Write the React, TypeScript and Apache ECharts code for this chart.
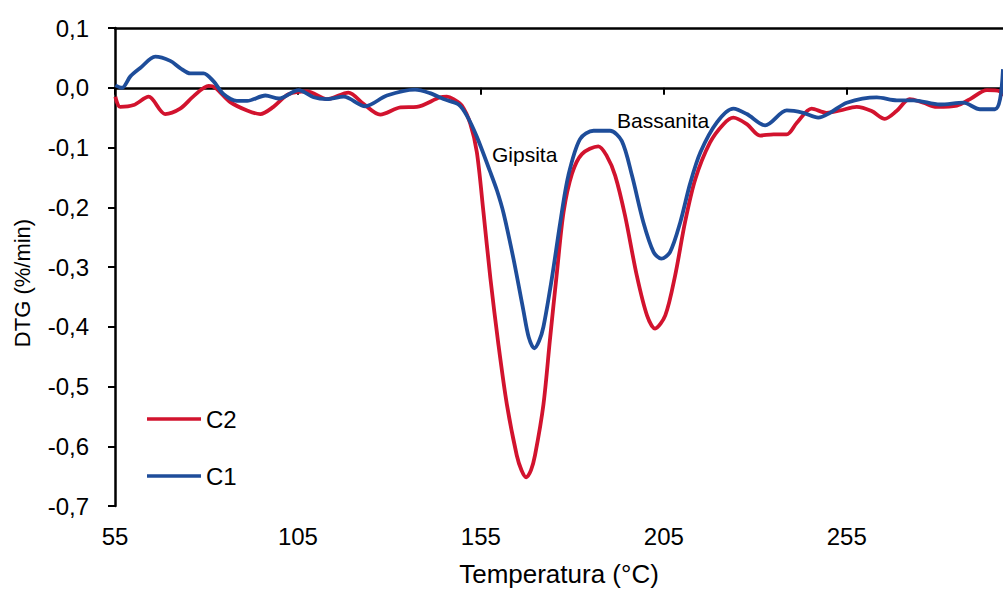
import React, { useEffect, useRef } from "react";
import * as echarts from "echarts";

// Temperature (°C) and DTG (%/min)
const c1Temp = [55.1, 56.9, 59.2, 61.9, 66.0, 70.1, 72.8, 75.6, 79.2, 81.9, 84.7, 88.3, 91.1, 96.1, 99.7, 105.2, 109.3, 112.9, 117.5, 123.4, 129.3, 137.0, 141.1, 144.8, 148.9, 151.2, 153.9, 157.5, 159.4, 161.2, 163.9, 166.6, 168.1, 169.6, 170.9, 172.1, 174.4, 176.7, 178.9, 182.1, 185.8, 190.3, 193.5, 196.3, 199.4, 202.2, 204.3, 206.7, 209.5, 212.2, 215.0, 219.5, 224.0, 227.7, 232.7, 238.6, 243.1, 247.2, 250.4, 255.0, 263.2, 268.7, 273.2, 280.5, 286.9, 291.4, 295.5, 296.9, 297.7];
const c1Dtg = [0.004, 0.0, 0.019, 0.033, 0.052, 0.045, 0.033, 0.024, 0.024, 0.011, -0.011, -0.022, -0.022, -0.013, -0.018, -0.004, -0.016, -0.019, -0.015, -0.031, -0.013, -0.003, -0.009, -0.019, -0.028, -0.047, -0.082, -0.140, -0.172, -0.210, -0.286, -0.372, -0.418, -0.436, -0.424, -0.400, -0.319, -0.225, -0.147, -0.086, -0.072, -0.072, -0.089, -0.147, -0.225, -0.275, -0.286, -0.275, -0.225, -0.160, -0.108, -0.058, -0.035, -0.044, -0.063, -0.038, -0.042, -0.050, -0.042, -0.025, -0.016, -0.021, -0.021, -0.028, -0.025, -0.036, -0.036, -0.019, 0.031];

const c2Temp = [55.1, 56.4, 60.1, 64.2, 68.7, 72.8, 76.5, 80.6, 82.4, 86.5, 91.1, 94.7, 98.3, 102.4, 107.5, 112.9, 118.8, 122.9, 127.5, 133.0, 137.5, 143.9, 145.7, 147.5, 149.8, 152.1, 153.9, 155.7, 157.6, 159.8, 162.1, 164.8, 166.1, 167.4, 168.7, 169.8, 172.1, 173.9, 175.8, 177.6, 179.9, 182.6, 187.1, 189.4, 191.7, 194.4, 197.6, 200.4, 202.6, 205.4, 208.1, 210.8, 213.6, 217.6, 221.3, 224.0, 227.7, 231.3, 235.0, 238.6, 241.3, 245.4, 249.5, 253.2, 257.7, 261.8, 265.4, 268.6, 272.2, 275.9, 279.6, 285.1, 288.7, 293.3, 296.9, 297.7];
const c2Dtg = [-0.015, -0.032, -0.029, -0.015, -0.044, -0.035, -0.014, 0.003, 0.0, -0.024, -0.038, -0.044, -0.032, -0.011, -0.006, -0.019, -0.008, -0.027, -0.045, -0.033, -0.032, -0.016, -0.015, -0.019, -0.03, -0.06, -0.108, -0.208, -0.319, -0.43, -0.53, -0.615, -0.640, -0.652, -0.640, -0.615, -0.53, -0.42, -0.308, -0.208, -0.144, -0.111, -0.098, -0.114, -0.147, -0.214, -0.314, -0.381, -0.403, -0.381, -0.314, -0.225, -0.153, -0.092, -0.061, -0.050, -0.061, -0.080, -0.078, -0.078, -0.059, -0.035, -0.042, -0.038, -0.032, -0.039, -0.052, -0.039, -0.019, -0.025, -0.032, -0.030, -0.019, -0.004, -0.006, -0.014];

const xTicks = [55, 105, 155, 205, 255];
const seriesNames = ["C2", "C1"];
const annotations = ["Gipsita", "Bassanita"];
const yTitle = "DTG (%/min)";
const xTitle = "Temperatura (°C)";

const RED = "#D2132E";
const BLUE = "#1E4D9A";
const FONT = "'Liberation Sans', Arial, sans-serif";

export default function App() {
  const ref = useRef<HTMLDivElement>(null);
  useEffect(() => {
    if (!ref.current) return;
    const chart = echarts.init(ref.current, undefined, { renderer: "svg" });
    const fmtY = (v: number) => (Math.abs(v) < 1e-9 ? "0,0" : v.toFixed(1).replace(".", ","));
    chart.setOption({
      animation: false,
      backgroundColor: "#fff",
      textStyle: { fontFamily: FONT },
      grid: { left: 115, right: 0, top: 28, bottom: 83 },
      legend: {
        data: seriesNames,
        orient: "vertical",
        left: 147,
        top: 407,
        padding: 0,
        icon: "rect",
        itemWidth: 54,
        itemHeight: 3.5,
        itemGap: 33,
        textStyle: { fontSize: 24, color: "#000", fontFamily: FONT },
      },
      xAxis: [
        {
          type: "value",
          min: 55,
          max: 297.7,
          name: xTitle,
          nameLocation: "middle",
          nameGap: 55,
          nameTextStyle: { fontSize: 26, color: "#000", fontFamily: FONT },
          axisLine: { lineStyle: { color: "#000", width: 2.5 } },
          axisTick: { show: true, length: 7, inside: false, customValues: xTicks, lineStyle: { color: "#000", width: 2 } },
          axisLabel: { customValues: xTicks, fontSize: 24, color: "#000", margin: 18, fontFamily: FONT },
          splitLine: { show: false },
        },
        {
          type: "value",
          position: "top",
          min: 55,
          max: 297.7,
          axisLine: { show: true, lineStyle: { color: "#000", width: 2.5 } },
          axisTick: { show: false },
          axisLabel: { show: false },
          splitLine: { show: false },
        },
      ],
      yAxis: {
        type: "value",
        min: -0.7,
        max: 0.1,
        interval: 0.1,
        axisLine: { show: true, lineStyle: { color: "#000", width: 2.5 } },
        axisTick: { show: true, length: 7, lineStyle: { color: "#000", width: 2 } },
        axisLabel: { formatter: fmtY, fontSize: 24, color: "#000", margin: 26, fontFamily: FONT },
        splitLine: { show: false },
      },
      series: [
        {
          name: "C2",
          type: "line",
          data: c2Temp.map((t, i) => [t, c2Dtg[i]]),
          showSymbol: false,
          smooth: 0.3,
          lineStyle: { color: RED, width: 3.8 },
          itemStyle: { color: RED },
        },
        {
          name: "C1",
          type: "line",
          data: c1Temp.map((t, i) => [t, c1Dtg[i]]),
          showSymbol: false,
          smooth: 0.3,
          lineStyle: { color: BLUE, width: 3.8 },
          itemStyle: { color: BLUE },
        },
      ],
      graphic: [
        {
          type: "text",
          x: 22,
          y: 283,
          rotation: Math.PI / 2,
          style: { text: yTitle, fontSize: 22, fill: "#000", fontFamily: FONT, align: "center", verticalAlign: "middle" },
        },
        {
          type: "text",
          left: 492,
          top: 144,
          style: { text: annotations[0], fontSize: 21, fill: "#000", fontFamily: FONT },
        },
        {
          type: "text",
          left: 617,
          top: 110,
          style: { text: annotations[1], fontSize: 21, fill: "#000", fontFamily: FONT },
        },
      ],
    });
    return () => chart.dispose();
  }, []);
  return (
    <div
      ref={ref}
      style={{ position: "absolute", left: 0, top: 0, width: 1003, height: 592 }}
    />
  );
}
